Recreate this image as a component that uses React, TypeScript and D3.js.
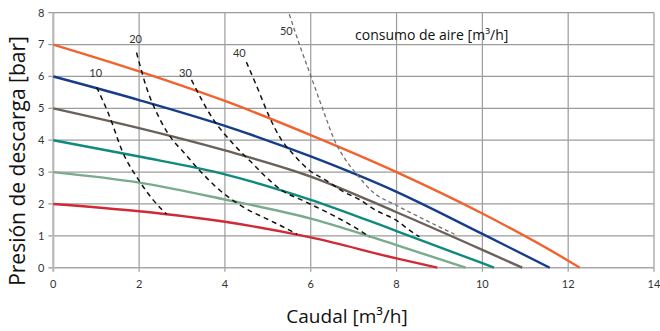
import React, { useEffect, useRef } from 'react';
import * as d3 from 'd3';

// ejes
const caudalTicks = [0, 2, 4, 6, 8, 10, 12, 14];
const presionTicks = [0, 1, 2, 3, 4, 5, 6, 7, 8];

// curvas de bomba [caudal m3/h, presión bar]
const curva7 = [[0, 7], [2, 6.16], [4, 5.23], [6, 4.16], [8, 3.0], [10, 1.7], [12, 0.22], [12.27, 0]];
const curva6 = [[0, 6], [2, 5.26], [4, 4.45], [6, 3.49], [8, 2.38], [10, 1.06], [11.57, 0]];
const curva5 = [[0, 5], [2, 4.38], [4, 3.68], [6, 2.86], [8, 1.74], [10, 0.56], [10.93, 0]];
const curva4 = [[0, 4], [2, 3.49], [4, 2.93], [6, 2.13], [8, 1.15], [10, 0.14], [10.27, 0]];
const curva3 = [[0, 3], [2, 2.67], [4, 2.14], [6, 1.54], [8, 0.71], [9.61, 0]];
const curva2 = [[0, 2], [2, 1.77], [4, 1.44], [6, 0.95], [8, 0.29], [8.95, 0]];

// consumo de aire [m3/h]
const aire10 = [[1.01, 5.66], [1.32, 4.72], [1.6, 3.68], [2.02, 2.69], [2.33, 2.12], [2.64, 1.68]];
const aire20 = [[1.94, 6.75], [2.17, 5.66], [2.48, 4.67], [2.79, 3.99], [3.0, 3.68], [3.41, 3.05], [3.88, 2.43], [4.42, 1.91], [5.04, 1.49], [5.43, 1.23], [5.68, 1.05]];
const aire30 = [[3.22, 5.89], [3.72, 4.67], [4.19, 3.89], [4.65, 3.26], [4.96, 2.84], [5.27, 2.48], [5.89, 2.06], [6.51, 1.65], [7.13, 1.18], [7.37, 0.97]];
const aire40 = [[4.5, 6.45], [4.77, 5.6], [5.04, 4.72], [5.3, 4.05], [5.6, 3.55], [5.97, 3.05], [6.36, 2.74], [6.74, 2.4], [7.13, 2.14], [7.52, 1.8], [7.99, 1.49], [8.3, 1.18], [8.53, 0.97]];
const aire50 = [[5.5, 7.95], [5.75, 6.95], [6.02, 5.95], [6.3, 4.9], [6.57, 3.95], [6.82, 3.37], [7.06, 2.95], [7.44, 2.38], [7.99, 1.96], [8.53, 1.59], [9.15, 1.18], [9.35, 1.05]];
const aireEtiquetas = ['10', '20', '30', '40', '50'];

const App = () => {
  const svgRef = useRef(null);

  useEffect(() => {
    const svg = d3.select(svgRef.current);
    svg.selectAll('*').remove();

    const width = 660;
    const height = 331;
    svg.attr('width', width).attr('height', height);

    const x = d3.scaleLinear().domain([0, 14]).range([53.3, 654]);
    const y = d3.scaleLinear().domain([0, 8]).range([267.7, 12.7]);

    const tickFont = 'Lato, "Open Sans", sans-serif';
    const titleFont = '"Open Sans", "Noto Sans", sans-serif';

    // grid
    const grid = svg.append('g');
    grid.selectAll('.vgrid')
      .data(caudalTicks.filter(d => d > 0))
      .enter()
      .append('line')
      .attr('x1', d => x(d)).attr('x2', d => x(d))
      .attr('y1', y(8)).attr('y2', y(0) + 4)
      .attr('stroke', '#9c9c9c')
      .attr('stroke-width', 1.2);
    grid.selectAll('.hgrid')
      .data(presionTicks)
      .enter()
      .append('line')
      .attr('x1', x(0) - 5).attr('x2', x(14))
      .attr('y1', d => y(d)).attr('y2', d => y(d))
      .attr('stroke', d => d === 0 ? '#a8a8a8' : '#9c9c9c')
      .attr('stroke-width', d => d === 0 ? 1.6 : 1.2);
    // eje y
    svg.append('line')
      .attr('x1', x(0)).attr('x2', x(0))
      .attr('y1', y(8)).attr('y2', y(0) + 4)
      .attr('stroke', '#b8b8b8')
      .attr('stroke-width', 2.2);

    // tick labels
    svg.selectAll('.ylab')
      .data(presionTicks)
      .enter()
      .append('text')
      .attr('x', x(0) - 9)
      .attr('y', d => y(d))
      .attr('dy', '0.35em')
      .attr('text-anchor', 'end')
      .attr('font-family', tickFont)
      .attr('font-size', 11)
      .attr('fill', '#333')
      .text(d => d);
    svg.selectAll('.xlab')
      .data(caudalTicks)
      .enter()
      .append('text')
      .attr('x', d => x(d))
      .attr('y', y(0) + 16)
      .attr('dy', '0.35em')
      .attr('text-anchor', 'middle')
      .attr('font-family', tickFont)
      .attr('font-size', 11)
      .attr('fill', '#333')
      .text(d => d);

    const line = d3.line()
      .x(d => x(d[0]))
      .y(d => y(d[1]))
      .curve(d3.curveMonotoneX);

    // curvas de bomba
    const bombas = [
      { data: curva2, color: '#CF2A37' },
      { data: curva3, color: '#79AB8C' },
      { data: curva4, color: '#0F8A7C' },
      { data: curva5, color: '#6B605A' },
      { data: curva6, color: '#163D8A' },
      { data: curva7, color: '#F2622E' }
    ];
    bombas.forEach(b => {
      svg.append('path')
        .datum(b.data)
        .attr('d', line)
        .attr('fill', 'none')
        .attr('stroke', b.color)
        .attr('stroke-width', 2.4);
    });

    // consumo de aire
    const aires = [aire10, aire20, aire30, aire40, aire50];
    const offsets = [[-1, -14], [-1, -13], [-6, -7], [-7, -9], [-3, 17]];
    aires.forEach((a, i) => {
      const gris = i === 4;
      svg.append('path')
        .datum(a)
        .attr('d', line)
        .attr('fill', 'none')
        .attr('stroke', gris ? '#6f6f6f' : '#111')
        .attr('stroke-width', gris ? 1.3 : 1.5)
        .attr('stroke-dasharray', gris ? '4,3' : '5,4');
      svg.append('text')
        .attr('x', x(a[0][0]) + offsets[i][0])
        .attr('y', y(a[0][1]) + offsets[i][1])
        .attr('dy', '0.35em')
        .attr('text-anchor', 'middle')
        .attr('font-family', tickFont)
        .attr('font-size', 11)
        .attr('fill', '#333')
        .text(aireEtiquetas[i]);
    });

    svg.append('text')
      .attr('x', 355)
      .attr('y', 40)
      .attr('font-family', titleFont)
      .attr('font-size', 14)
      .attr('fill', '#111')
      .text('consumo de aire [m³/h]');

    // titulos
    svg.append('text')
      .attr('x', 347)
      .attr('y', 323)
      .attr('text-anchor', 'middle')
      .attr('font-family', titleFont)
      .attr('font-size', 19)
      .attr('fill', '#111')
      .text('Caudal [m³/h]');
    svg.append('text')
      .attr('transform', 'translate(25,161) rotate(-90)')
      .attr('text-anchor', 'middle')
      .attr('font-family', titleFont)
      .attr('font-size', 21)
      .attr('fill', '#111')
      .text('Presión de descarga [bar]');
  }, []);

  return (
    <svg ref={svgRef} style={{ position: 'absolute', left: 0, top: 0, background: '#fff' }}></svg>
  );
};

export default App;
